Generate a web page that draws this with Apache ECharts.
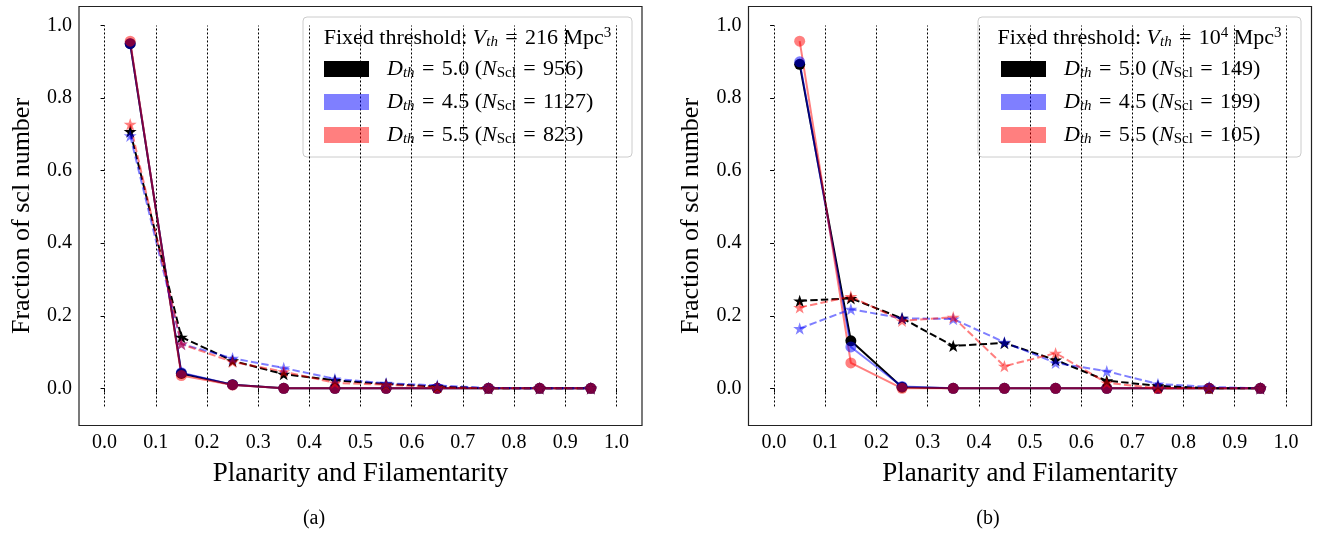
<!DOCTYPE html>
<html>
<head>
<meta charset="utf-8">
<script src="https://cdn.jsdelivr.net/npm/echarts@6/dist/echarts.min.js"></script>
<style>
html,body{margin:0;padding:0;background:#fff;}
#chart{width:1322px;height:533px;}
</style>
</head>
<body>
<div id="chart"></div>
<script>
// ---------- data ----------
const xCenters = [0.05, 0.15, 0.25, 0.35, 0.45, 0.55, 0.65, 0.75, 0.85, 0.95];
const xTicks = [0.0, 0.1, 0.2, 0.3, 0.4, 0.5, 0.6, 0.7, 0.8, 0.9, 1.0];
const yTicks = [0.0, 0.2, 0.4, 0.6, 0.8, 1.0];
const vlineX = [0.0, 0.1, 0.2, 0.3, 0.4, 0.5, 0.6, 0.7, 0.8, 0.9, 1.0];

// panel (a): V_th = 216 Mpc^3
const aSolid50 = [0.950, 0.041, 0.010, 0.000, 0.000, 0.000, 0.000, 0.000, 0.000, 0.000];
const aSolid45 = [0.950, 0.043, 0.010, 0.000, 0.000, 0.000, 0.000, 0.000, 0.000, 0.000];
const aSolid55 = [0.957, 0.035, 0.009, 0.000, 0.000, 0.000, 0.000, 0.000, 0.000, 0.000];
const aDash50  = [0.708, 0.141, 0.076, 0.039, 0.022, 0.012, 0.005, 0.000, 0.000, 0.000];
const aDash45  = [0.696, 0.122, 0.083, 0.056, 0.026, 0.014, 0.008, 0.001, 0.000, 0.000];
const aDash55  = [0.728, 0.122, 0.073, 0.046, 0.015, 0.010, 0.003, 0.000, 0.000, 0.000];

// panel (b): V_th = 10^4 Mpc^3
const bSolid50 = [0.893, 0.131, 0.003, 0.000, 0.000, 0.000, 0.000, 0.000, 0.000, 0.000];
const bSolid45 = [0.900, 0.114, 0.005, 0.000, 0.000, 0.000, 0.000, 0.000, 0.000, 0.000];
const bSolid55 = [0.957, 0.070, 0.000, 0.000, 0.000, 0.000, 0.000, 0.000, 0.000, 0.000];
const bDash50  = [0.241, 0.248, 0.193, 0.117, 0.125, 0.078, 0.021, 0.007, 0.000, 0.000];
const bDash45  = [0.165, 0.218, 0.193, 0.191, 0.127, 0.070, 0.047, 0.012, 0.004, 0.000];
const bDash55  = [0.223, 0.253, 0.186, 0.196, 0.061, 0.097, 0.015, 0.000, 0.000, 0.000];

const aCounts = {'5.0': 956, '4.5': 1127, '5.5': 823};
const bCounts = {'5.0': 149, '4.5': 199, '5.5': 105};

// ---------- styling ----------
const FONT = '"Liberation Serif", "DejaVu Serif", serif';
const C_BLACK = '#000000';
const C_BLUE = 'rgba(0,0,255,0.5)';
const C_RED = 'rgba(255,0,0,0.5)';
const STAR = 'path://M50,0 L61.23,34.55 L97.55,34.55 L68.16,55.9 L79.39,90.45 L50,69.1 L20.61,90.45 L31.84,55.9 L2.45,34.55 L38.77,34.55 Z';
const EQ = '\u2004=\u2004';

function pts(vals) { return xCenters.map((x, i) => [x, vals[i]]); }

function solid(name, vals, color, idx) {
  return {
    name: name, type: 'line', xAxisIndex: idx, yAxisIndex: idx,
    data: pts(vals), symbol: 'circle', symbolSize: 11,
    lineStyle: {color: color, width: 2}, itemStyle: {color: color},
    emphasis: {disabled: true}, animation: false, z: 3
  };
}
function dashed(name, vals, color, idx) {
  return {
    name: name, type: 'line', xAxisIndex: idx, yAxisIndex: idx,
    data: pts(vals), symbol: STAR, symbolSize: 13, symbolKeepAspect: true,
    lineStyle: {color: color, width: 2, type: [7.4, 3.2]}, itemStyle: {color: color},
    emphasis: {disabled: true}, animation: false, z: 3
  };
}
function vlines(idx) {
  return {
    type: 'line', xAxisIndex: idx, yAxisIndex: idx, data: [], silent: true, animation: false,
    markLine: {
      silent: true, symbol: ['none', 'none'], label: {show: false}, animation: false,
      lineStyle: {color: '#000', width: 1, type: [2, 2]},
      emphasis: {disabled: true},
      data: vlineX.map(x => [{coord: [x, -0.05]}, {coord: [x, 1.0]}])
    },
    z: 1
  };
}

const richBase = {
  r: {fontFamily: FONT, fontSize: 22, lineHeight: 24, color: '#000'},
  i: {fontFamily: FONT, fontSize: 22, lineHeight: 24, fontStyle: 'italic', color: '#000'},
  si: {fontFamily: FONT, fontSize: 15, lineHeight: 24, fontStyle: 'italic', color: '#000', padding: [9, 0, 0, 0]},
  sr: {fontFamily: FONT, fontSize: 15, lineHeight: 24, color: '#000', padding: [9, 0, 0, 0]},
  sup: {fontFamily: FONT, fontSize: 15, lineHeight: 24, color: '#000', padding: [0, 0, 10, 0]}
};

function legendLabel(d, n) {
  return '{i|D}{si|th}{r|' + EQ + d + ' (}{i|N}{sr|Scl}{r|' + EQ + n + ')}';
}

function xAxisCfg(idx) {
  return {
    type: 'value', gridIndex: idx, min: -0.05, max: 1.05,
    axisLine: {show: false}, splitLine: {show: false},
    axisTick: {show: true, customValues: xTicks, length: 4, lineStyle: {color: '#000', width: 1}},
    axisLabel: {customValues: xTicks, formatter: v => v.toFixed(1), fontFamily: FONT, fontSize: 20, color: '#000', margin: 7},
    name: 'Planarity and Filamentarity', nameLocation: 'middle', nameGap: 35,
    nameTextStyle: {fontFamily: FONT, fontSize: 27, color: '#000'}
  };
}
function yAxisCfg(idx) {
  return {
    type: 'value', gridIndex: idx, min: -0.1025, max: 1.0525,
    axisLine: {show: false}, splitLine: {show: false},
    axisTick: {show: true, customValues: yTicks, length: 4, lineStyle: {color: '#000', width: 1}},
    axisLabel: {customValues: yTicks, formatter: v => v.toFixed(1), fontFamily: FONT, fontSize: 20, color: '#000', margin: 7},
    name: 'Fraction of scl number', nameLocation: 'middle', nameGap: 44, nameRotate: 90,
    nameTextStyle: {fontFamily: FONT, fontSize: 26, color: '#000'}
  };
}

function legendCfg(names, counts, left) {
  return {
    orient: 'vertical', left: left, top: 57, padding: 0, itemGap: 9,
    itemWidth: 45, itemHeight: 16, icon: 'rect', z: 10,
    data: names, selectedMode: false,
    formatter: function (name) { return legendLabel(name.slice(1), counts[name.slice(1)]); },
    textStyle: {padding: [0, 0, 0, 13], rich: richBase}
  };
}

function titleText(cx, label) {
  return {
    type: 'text', x: cx, y: 38, z: 11,
    style: {
      text: label, align: 'center', verticalAlign: 'middle',
      textAlign: 'center', textVerticalAlign: 'middle',
      rich: richBase, fontFamily: FONT, fontSize: 22, fill: '#000'
    }
  };
}

const option = {
  backgroundColor: '#fff',
  animation: false,
  grid: [
    {left: 79, top: 6.5, width: 563, height: 419, show: true, borderColor: '#222', borderWidth: 1.2, backgroundColor: 'transparent'},
    {left: 748.5, top: 6.5, width: 563, height: 419, show: true, borderColor: '#222', borderWidth: 1.2, backgroundColor: 'transparent'}
  ],
  xAxis: [xAxisCfg(0), xAxisCfg(1)],
  yAxis: [yAxisCfg(0), yAxisCfg(1)],
  legend: [
    legendCfg(['a5.0', 'a4.5', 'a5.5'], aCounts, 324),
    legendCfg(['b5.0', 'b4.5', 'b5.5'], bCounts, 1001)
  ],
  series: [
    vlines(0),
    solid('a5.0', aSolid50, C_BLACK, 0),
    solid('a4.5', aSolid45, C_BLUE, 0),
    solid('a5.5', aSolid55, C_RED, 0),
    dashed('a5.0d', aDash50, C_BLACK, 0),
    dashed('a4.5d', aDash45, C_BLUE, 0),
    dashed('a5.5d', aDash55, C_RED, 0),
    vlines(1),
    solid('b5.0', bSolid50, C_BLACK, 1),
    solid('b4.5', bSolid45, C_BLUE, 1),
    solid('b5.5', bSolid55, C_RED, 1),
    dashed('b5.0d', bDash50, C_BLACK, 1),
    dashed('b4.5d', bDash45, C_BLUE, 1),
    dashed('b5.5d', bDash55, C_RED, 1)
  ],
  graphic: [
    {type: 'rect', z: 5, shape: {x: 303, y: 17, width: 329, height: 140, r: 4},
     style: {fill: 'rgba(255,255,255,0.8)', stroke: '#cccccc', lineWidth: 1}},
    {type: 'rect', z: 5, shape: {x: 978, y: 17, width: 323, height: 140, r: 4},
     style: {fill: 'rgba(255,255,255,0.8)', stroke: '#cccccc', lineWidth: 1}},
    titleText(467.5, '{r|Fixed threshold: }{i|V}{si|th}{r|' + EQ + '216 Mpc}{sup|3}'),
    titleText(1139.5, '{r|Fixed threshold: }{i|V}{si|th}{r|' + EQ + '10}{sup|4}{r| Mpc}{sup|3}'),
    {type: 'text', x: 314, y: 519, z: 11,
     style: {text: '(a)', align: 'center', verticalAlign: 'middle', fontFamily: FONT, fontSize: 20, fill: '#000'}},
    {type: 'text', x: 988, y: 519, z: 11,
     style: {text: '(b)', align: 'center', verticalAlign: 'middle', fontFamily: FONT, fontSize: 20, fill: '#000'}}
  ]
};

const chart = echarts.init(document.getElementById('chart'), null, {renderer: 'canvas'});
chart.setOption(option);
</script>
</body>
</html>
